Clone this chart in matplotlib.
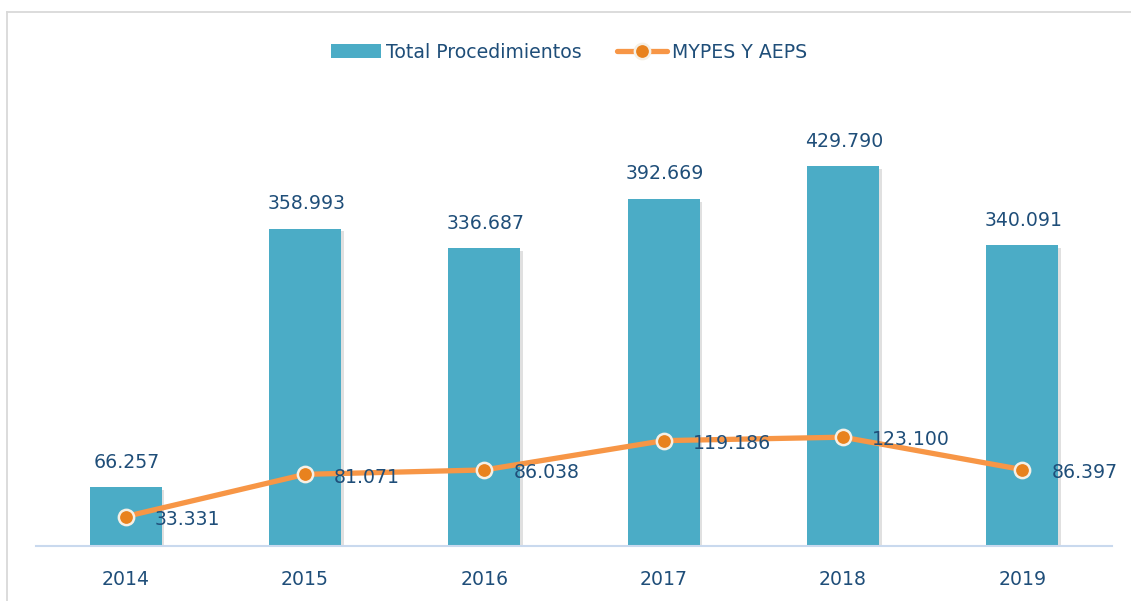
import matplotlib
matplotlib.use("Agg")
import matplotlib.pyplot as plt
from matplotlib.lines import Line2D
from matplotlib.patches import Patch
import matplotlib.patheffects as pe

years = ["2014", "2015", "2016", "2017", "2018", "2019"]
total_proc = [66257, 358993, 336687, 392669, 429790, 340091]
mypes_aeps = [33331, 81071, 86038, 119186, 123100, 86397]
bar_labels = ["66.257", "358.993", "336.687", "392.669", "429.790", "340.091"]
line_labels = ["33.331", "81.071", "86.038", "119.186", "123.100", "86.397"]

BAR_C = "#4BACC6"
LINE_C = "#F79646"
MARK_C = "#E8821E"
TXT_C = "#1F4E79"
FS = 13.6

plt.rcParams["font.family"] = ["DejaVu Sans"]

W, H = 1131, 601
fig = plt.figure(figsize=(W / 100, H / 100), dpi=100)
ax = fig.add_axes([36 / W, (H - 546) / H, (1112 - 36) / W, (546 - 104) / H])

x = list(range(len(years)))
shadow = [pe.SimplePatchShadow(offset=(2, -2), shadow_rgbFace="#999999", alpha=0.3), pe.Normal()]
ax.bar(x, total_proc, width=0.4, color=BAR_C, zorder=2, path_effects=shadow)

line, = ax.plot(x, mypes_aeps, color=LINE_C, lw=3.8, marker="o", markersize=11,
                markerfacecolor=MARK_C, markeredgecolor="#F5F0E6", markeredgewidth=1.8,
                zorder=3, solid_capstyle="round")

for xi, v, lab in zip(x, total_proc, bar_labels):
    ax.annotate(lab, (xi, v), xytext=(1, 18), textcoords="offset points",
                ha="center", va="center", fontsize=FS, color=TXT_C, zorder=5)
for xi, v, lab in zip(x, mypes_aeps, line_labels):
    ax.annotate(lab, (xi, v), xytext=(21, -2), textcoords="offset points",
                ha="left", va="center", fontsize=FS, color=TXT_C, zorder=5)

ax.set_xlim(-0.5, 5.5)
ax.set_ylim(0, 500000)
ax.set_xticks(x)
ax.set_xticklabels(years, fontsize=FS, color=TXT_C)
ax.tick_params(axis="x", length=0, pad=17)
ax.set_yticks([])
for s in ["top", "right", "left"]:
    ax.spines[s].set_visible(False)
ax.spines["bottom"].set_color("#C9D9EE")
ax.spines["bottom"].set_linewidth(1.5)
ax.patch.set_alpha(0)

h_bar = Patch(facecolor=BAR_C, edgecolor="none")
h_line = Line2D([], [], color=LINE_C, lw=3.8, marker="o", markersize=11,
                markerfacecolor=MARK_C, markeredgecolor="#F5F0E6", markeredgewidth=1.8,
                solid_capstyle="round")
fig.legend([h_bar, h_line], ["Total Procedimientos", "MYPES Y AEPS"],
           loc="center", bbox_to_anchor=(0.503, 1 - 52 / H), ncol=2, frameon=False,
           fontsize=FS, labelcolor=TXT_C, handlelength=2.65, handletextpad=0.25,
           columnspacing=1.9)

# chart border
bx = 7 / W
by = 1 - 12 / H
fig.add_artist(Line2D([bx, bx], [0, by], transform=fig.transFigure, color="#D9D9D9", lw=1.3))
fig.add_artist(Line2D([bx, 1], [by, by], transform=fig.transFigure, color="#D9D9D9", lw=1.3))

fig.savefig("out.png", dpi=100)
